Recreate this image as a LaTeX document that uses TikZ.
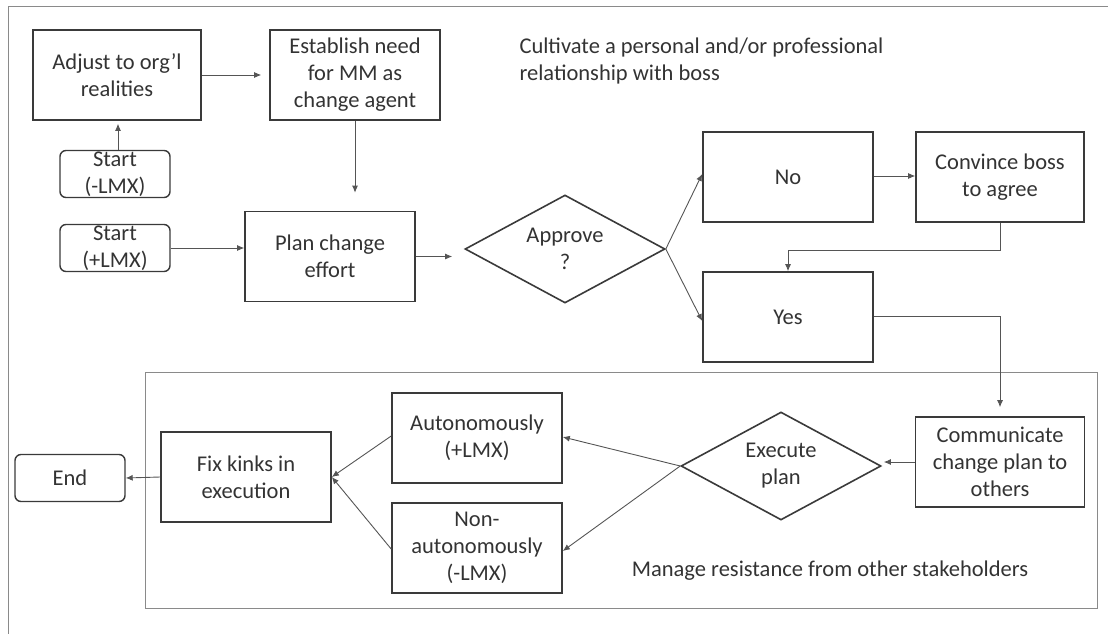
\documentclass[tikz,border=0pt]{standalone}
\usepackage{fontspec}
\setmainfont{Carlito}
\usetikzlibrary{arrows.meta,shapes.geometric,calc}
\definecolor{ink}{HTML}{3A3A3A}
\definecolor{txt}{HTML}{333333}
\definecolor{conn}{HTML}{555555}
\definecolor{frame}{HTML}{8A8A8A}
\begin{document}
\begin{tikzpicture}[x=1pt,y=-1pt,
  every node/.style={font=\fontsize{22.5}{27}\selectfont, text=txt},
  box/.style={draw=ink, line width=1.6pt, rectangle, minimum width=#1, minimum height=90pt, align=center, inner sep=2pt},
  box/.default=169pt,
  term/.style={draw=ink, line width=1.4pt, rectangle, rounded corners=6pt, minimum width=110pt, minimum height=47pt, align=center, inner sep=1pt},
  dec/.style={draw=ink, line width=1.6pt, diamond, aspect=1.85, minimum width=200pt, minimum height=108pt, align=center, inner sep=0pt},
  arr/.style={draw=conn, line width=0.9pt, -{Latex[length=7pt,width=6pt]}},
  ln/.style={draw=conn, line width=0.9pt}
]
\useasboundingbox (0,0) rectangle (1108,634);
% frames
\draw[frame, line width=1pt] (8,634) -- (8,7) -- (1108,7);
\draw[frame, line width=1pt] (145,372) rectangle (1097,608);

% nodes
\node[box=168pt] (adj) at (117,75) {Adjust to org’l\\realities};
\node[box=170pt] (est) at (355,75) {Establish need\\for MM as\\change agent};
\node[term] (s1) at (115,174) {Start\\(-LMX)};
\node[term] (s2) at (115,248) {Start\\(+LMX)};
\node[box=170pt] (plan) at (330,256.5) {Plan change\\effort};
\node[dec] (app) at (565,249) {Approve\\?};
\node[box=170pt] (no) at (788,177) {No};
\node[box=168pt] (conv) at (1000,177) {Convince boss\\to agree};
\node[box=170pt] (yes) at (788,317) {Yes};
\node[box=169pt] (comm) at (1000,462) {Communicate\\change plan to\\others};
\node[dec] (exe) at (781,466) {Execute\\plan};
\node[box=170pt] (auto) at (477,438) {Autonomously\\(+LMX)};
\node[box=170pt] (non) at (477,548) {Non-\\autonomously\\(-LMX)};
\node[box=170pt] (fix) at (246,477) {Fix kinks in\\execution};
\node[term] (end) at (70,478) {End};

\node[anchor=west, align=left] (cult) at (516,61) {Cultivate a personal and/or professional\\relationship with boss};
\node (mng) at (830,571) {Manage resistance from other stakeholders};

% connectors
\draw[arr, shorten >=3pt] ([xshift=3pt]s1.north) -- ([xshift=3pt]s1.north |- adj.south);
\draw[arr, shorten >=8pt] (adj.east) -- (est.west);
\draw[arr, shorten >=18pt] (est.south) -- (est.south |- plan.north);
\draw[arr] (s2.east) -- (s2.east -| plan.west);
\draw[arr, shorten >=12pt] (plan.east) -- (plan.east -| app.west);
\draw[arr] (app.east) -- ([yshift=3pt]no.west);
\draw[arr] (app.east) -- ([yshift=-4pt]yes.west);
\draw[arr] ([yshift=1pt]no.east) -- ([yshift=1pt]conv.west);
\draw[arr] (conv.south) -- ++(0,28) -| (yes.north);
\draw[arr, shorten >=9pt] ([yshift=1pt]yes.east) -| (comm.north);
\draw[arr, shorten >=2pt] (comm.west) -- (comm.west -| exe.east);
\draw[arr] (exe.west) -- ([yshift=1pt]auto.east);
\draw[arr] (exe.west) -- ([yshift=-3pt]non.east);
\draw[arr] ([yshift=2pt]auto.west) -- (fix.east);
\draw[arr] ([yshift=-1pt]non.west) -- (fix.east);
\draw[arr] (fix.west) -- (end.east);
\end{tikzpicture}
\end{document}
